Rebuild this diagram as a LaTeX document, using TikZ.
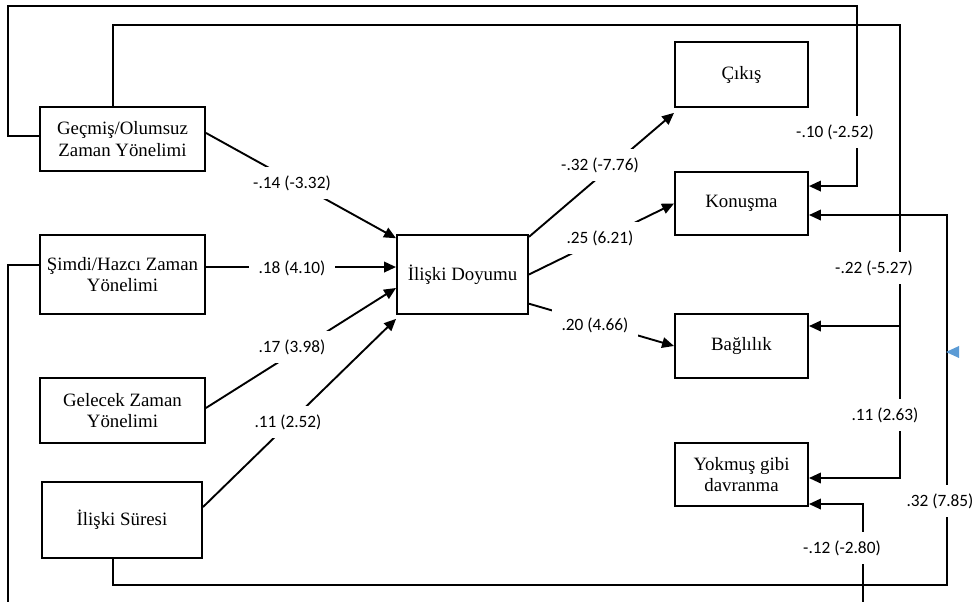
\documentclass[tikz,border=0pt]{standalone}
\usepackage{fontspec}
\setmainfont{Liberation Serif}
\newfontfamily\labfont{Carlito}
\usetikzlibrary{arrows.meta}
\definecolor{markblue}{RGB}{91,155,213}

\begin{document}
\begin{tikzpicture}[x=0.025cm,y=-0.025cm,line width=1.35pt,
    >={Triangle[length=8.5pt,width=7.5pt]},
    box/.style={draw,align=center,inner sep=2pt,font=\fontsize{13.4}{15.5}\selectfont},
    lab/.style={fill=white,inner xsep=7pt,inner ysep=6pt,font=\labfont\fontsize{12.3}{14}\selectfont}]

    \useasboundingbox (0,0) rectangle (976,602);
    \clip (0,0) rectangle (976,602);

    % left column
    \node[box,minimum width=4.125cm,minimum height=1.6cm] (gecmis) at (122.5,139) {Geçmiş/Olumsuz\\Zaman Yönelimi};
    \node[box,minimum width=4.125cm,minimum height=1.975cm] (simdi) at (122.5,274.5) {Şimdi/Hazcı Zaman\\Yönelimi};
    \node[box,minimum width=4.125cm,minimum height=1.625cm] (gelecek) at (122.5,410.5) {Gelecek Zaman\\Yönelimi};
    \node[box,minimum width=4cm,minimum height=1.9cm] (sure) at (122,520) {İlişki Süresi};
    \node[box,minimum width=3.275cm,minimum height=1.975cm] (doyum) at (462.5,274.5) {İlişki Doyumu};
    % right column
    \node[box,minimum width=3.325cm,minimum height=1.625cm] (cikis) at (741.5,74.5) {Çıkış};
    \node[box,minimum width=3.325cm,minimum height=1.575cm] (konusma) at (741.5,203.5) {Konuşma};
    \node[box,minimum width=3.325cm,minimum height=1.6cm] (baglilik) at (741.5,346) {Bağlılık};
    \node[box,minimum width=3.325cm,minimum height=1.575cm] (yokmus) at (741.5,474.5) {Yokmuş gibi\\davranma};

    \draw [->] ([yshift=4.3pt]gecmis.east) -- ([yshift=-3pt]doyum.north west);
    \draw [->] ([yshift=5.3pt]simdi.east) -- ([yshift=5.3pt]doyum.west);
    \draw [->] ([yshift=1.8pt]gelecek.east) -- ([yshift=-9.6pt]doyum.west);
    \draw [->] ([yshift=9.2pt]sure.east) -- ([yshift=-2.8pt]doyum.south west);
    \draw [->] ([yshift=-2pt]doyum.north east) -- ([yshift=-3.5pt]cikis.south west);
    \draw [->] (doyum.east) -- (konusma.west);
    \draw [->] ([yshift=8pt]doyum.south east) -- (baglilik.west);

    % lines round the outside
    \coordinate (tl1) at (8,6);
    \coordinate (tr1) at (857,6);
    \coordinate (tr2) at (900,25);
    \coordinate (bl1) at (8,640);
    \coordinate (br1) at (863,640);
    \coordinate (br2) at (947,585);
    \coordinate (bg) at ([yshift=14.2pt]baglilik.east);
    \draw [->] ([yshift=2pt]gecmis.west) -| (tl1) -- (tr1) |- ([yshift=12.4pt]konusma.east);
    \draw [->] ([xshift=-6.8pt]gecmis.north) |- (tr2) |- ([yshift=-2.5pt]yokmus.east);
    \draw [->] (bg -| tr2) -- (bg);
    \draw [->] ([yshift=6.7pt]simdi.west) -| (bl1) -- (br1) |- ([yshift=-21pt]yokmus.east);
    \draw [->] ([xshift=-6.4pt]sure.south) |- (br2) |- ([yshift=-8.2pt]konusma.east);

    \node[lab] (p14) at (292,183) {-.14 (-3.32)};
    \node[lab] (p18) at (292,268) {.18 (4.10)};
    \node[lab] (p17) at (292,347) {.17 (3.98)};
    \node[lab] (p11) at (288,422) {.11 (2.52)};
    \node[lab] (p32) at (600,165) {-.32 (-7.76)};
    \node[lab] (p25) at (600,238) {.25 (6.21)};
    \node[lab] (p20) at (595,325) {.20 (4.66)};
    \node[lab] (p10) at (835,132) {-.10 (-2.52)};
    \node[lab] (p22) at (874,268) {-.22 (-5.27)};
    \node[lab] (p263) at (885,415) {.11 (2.63)};
    \node[lab] (p785) at (940,501) {.32 (7.85)};
    \node[lab] (p12) at (842,548) {-.12 (-2.80)};

    \fill[markblue,line width=0pt] (946,352) -- (959,346) -- (959,358) -- cycle;
\end{tikzpicture}
\end{document}
